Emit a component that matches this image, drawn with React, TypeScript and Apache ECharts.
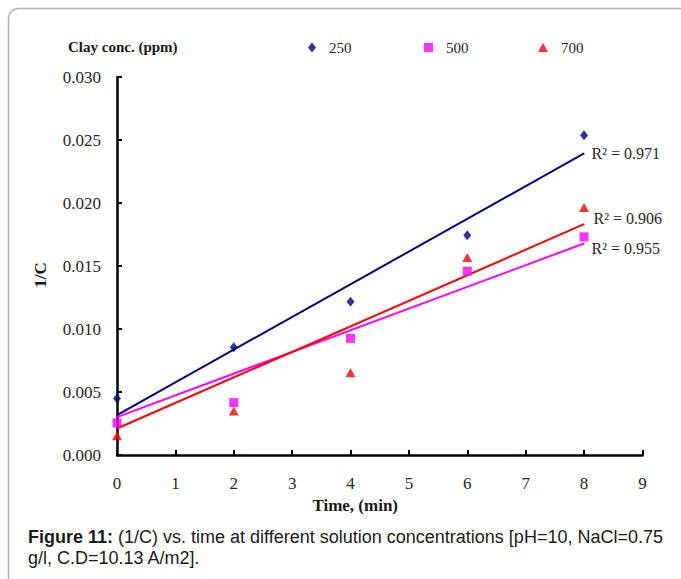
import React, { useEffect, useRef } from "react";
import * as echarts from "echarts";

const times = [0, 2, 4, 6, 8];
const conc250 = [0.00448, 0.00856, 0.01216, 0.01745, 0.02538];
const conc500 = [0.00254, 0.00416, 0.00925, 0.01459, 0.01731];
const conc700 = [0.00152, 0.00350, 0.00653, 0.01568, 0.01964];

// trendline end values (at t = 0 and t = 8)
const trendX = [0, 8];
const trend250 = [0.00317, 0.02393];
const trend500 = [0.00301, 0.01679];
const trend700 = [0.00210, 0.01832];
const r2Labels = ["R\u00b2 = 0.971", "R\u00b2 = 0.955", "R\u00b2 = 0.906"];

const seriesNames = ["250", "500", "700"];
const colors = ["#000080", "#ff00ff", "#ff0000"];

const serif = "Liberation Serif";
const sans = "Liberation Sans";

export default function App() {
  const ref = useRef<HTMLDivElement>(null);
  useEffect(() => {
    if (!ref.current) return;
    const chart = echarts.init(ref.current, null, { renderer: "svg" });
    const pts = (arr: number[]) => times.map((t, i) => [t, arr[i]]);
    const trend = (arr: number[], label: string, offset: number[]) => [
      [trendX[0], arr[0]],
      {
        value: [trendX[1], arr[1]],
        label: {
          show: true,
          formatter: label,
          position: "right",
          distance: 7,
          offset,
          fontFamily: serif,
          fontSize: 16,
          color: "#262626",
        },
      },
    ];
    const legendBase = {
      top: 40,
      padding: 0,
      textStyle: { fontFamily: serif, fontSize: 15, color: "#262626", padding: [0, 0, 0, 8] },
    };
    chart.setOption({
      animation: false,
      textStyle: { fontFamily: serif },
      title: {
        text: "Clay conc. (ppm)",
        left: 68,
        top: 39,
        padding: 0,
        textStyle: { fontFamily: serif, fontSize: 15, fontWeight: "bold", color: "#1a1a1a" },
      },
      legend: [
        { ...legendBase, left: 308, data: [seriesNames[0]], itemWidth: 8, itemHeight: 10 },
        { ...legendBase, left: 424, data: [seriesNames[1]], itemWidth: 9, itemHeight: 9 },
        { ...legendBase, left: 538, data: [seriesNames[2]], itemWidth: 10, itemHeight: 9 },
      ],
      grid: { left: 117, right: 38.6, top: 77, bottom: 124 },
      xAxis: {
        type: "value",
        min: 0,
        max: 9,
        interval: 1,
        name: "Time, (min)",
        nameLocation: "middle",
        nameGap: 29,
        nameTextStyle: {
          fontFamily: serif,
          fontSize: 17,
          fontWeight: "bold",
          color: "#1a1a1a",
          padding: [0, 49, 0, 0],
        },
        axisLine: { lineStyle: { color: "#000", width: 2.5 } },
        axisTick: { inside: true, length: 5, lineStyle: { color: "#000", width: 2 } },
        axisLabel: { fontFamily: serif, fontSize: 17, color: "#262626", margin: 20 },
        splitLine: { show: false },
      },
      yAxis: {
        type: "value",
        min: 0,
        max: 0.03,
        interval: 0.005,
        name: "1/C",
        nameLocation: "middle",
        nameGap: 68,
        nameRotate: 90,
        nameTextStyle: {
          fontFamily: serif,
          fontSize: 17,
          fontWeight: "bold",
          color: "#1a1a1a",
          padding: [0, 18, 0, 0],
        },
        axisLine: { show: true, lineStyle: { color: "#000", width: 2.5 } },
        axisTick: { show: true, inside: true, length: 5, lineStyle: { color: "#000", width: 2 } },
        axisLabel: {
          fontFamily: serif,
          fontSize: 17,
          color: "#262626",
          margin: 16,
          formatter: (v: number) => v.toFixed(3),
        },
        splitLine: { show: false },
      },
      series: [
        {
          name: seriesNames[0] + " fit",
          type: "line",
          data: trend(trend250, r2Labels[0], [0, 0]),
          symbol: "circle",
          symbolSize: 1,
          itemStyle: { color: colors[0] },
          lineStyle: { color: colors[0], width: 2 },
          z: 2,
        },
        {
          name: seriesNames[1] + " fit",
          type: "line",
          data: trend(trend500, r2Labels[1], [0, 5]),
          symbol: "circle",
          symbolSize: 1,
          itemStyle: { color: colors[1] },
          lineStyle: { color: colors[1], width: 2 },
          z: 2,
        },
        {
          name: seriesNames[2] + " fit",
          type: "line",
          data: trend(trend700, r2Labels[2], [2, -6]),
          symbol: "circle",
          symbolSize: 1,
          itemStyle: { color: colors[2] },
          lineStyle: { color: colors[2], width: 2 },
          z: 2,
        },
        {
          name: seriesNames[0],
          type: "scatter",
          data: pts(conc250),
          symbol: "diamond",
          symbolSize: [8, 10],
          itemStyle: { color: colors[0] },
          z: 3,
        },
        {
          name: seriesNames[1],
          type: "scatter",
          data: pts(conc500),
          symbol: "rect",
          symbolSize: 9,
          itemStyle: { color: colors[1] },
          z: 3,
        },
        {
          name: seriesNames[2],
          type: "scatter",
          data: pts(conc700),
          symbol: "triangle",
          symbolSize: [10, 9],
          itemStyle: { color: colors[2] },
          z: 3,
        },
      ],
      graphic: [
        {
          type: "rect",
          shape: { x: 8.5, y: 8.5, width: 700, height: 600, r: 10 },
          style: { fill: "none", stroke: "#b4b4b4", lineWidth: 1.5 },
          silent: true,
        },
        {
          type: "text",
          left: 28,
          top: 526,
          style: {
            text:
              "{b|Figure 11:} (1/C) vs. time at different solution concentrations [pH=10, NaCl=0.75\ng/l, C.D=10.13 A/m2].",
            font: "18px " + sans,
            fill: "#1a1a1a",
            lineHeight: 21,
            rich: {
              b: { fontWeight: "bold", fontSize: 18, fontFamily: sans, lineHeight: 21, fill: "#1a1a1a" },
            },
          },
        },
      ],
    });
    return () => chart.dispose();
  }, []);
  return (
    <div
      ref={ref}
      style={{ position: "absolute", left: 0, top: 0, width: 681, height: 579, background: "#fff" }}
    />
  );
}
